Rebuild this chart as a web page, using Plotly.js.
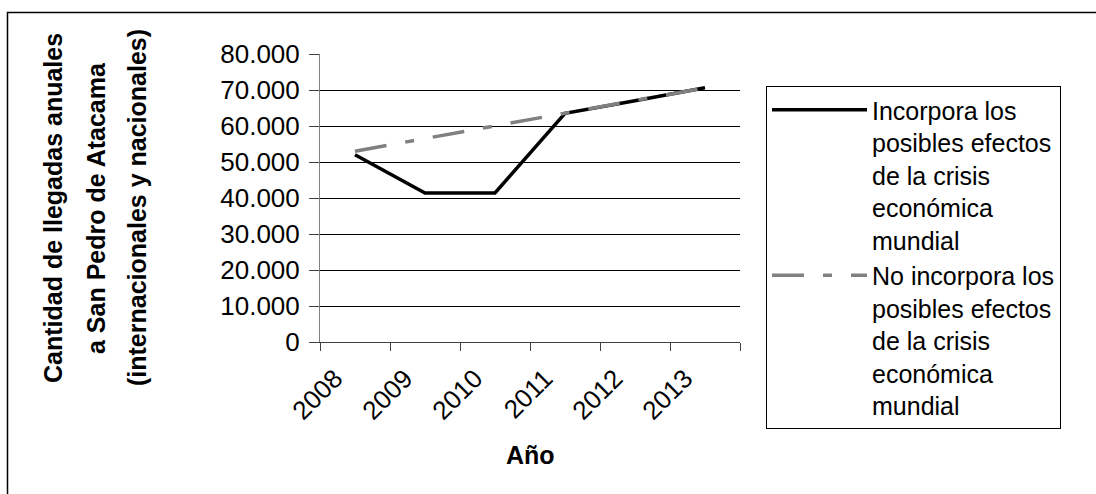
<!DOCTYPE html>
<html>
<head>
<meta charset="utf-8">
<script src="https://cdn.plot.ly/plotly-3.0.1.min.js"></script>
<style>html,body{margin:0;padding:0;background:#fff;}#chart{width:1096px;height:494px;}</style>
</head>
<body>
<div id="chart"></div>
<script>
var years = ['2008', '2009', '2010', '2011', '2012', '2013'];
var conCrisis = [52000, 41400, 41400, 63500, 67000, 70600];
var sinCrisis = [53000, 56500, 60000, 63500, 67000, 70600];
var nameCon = 'Incorpora los<br>posibles efectos<br>de la crisis<br>económica<br>mundial';
var nameSin = 'No incorpora los<br>posibles efectos<br>de la crisis<br>económica<br>mundial';
var yTitleLines = ['Cantidad de llegadas anuales', 'a San Pedro de Atacama', '(internacionales y nacionales)'];
var xTitle = 'Año';

var W = 1096, H = 494;
var L = 320, R = 740, T = 54, B = 342;
function px(x){ return (x - L) / (R - L); }
function py(y){ return (B - y) / (B - T); }

var font = 'Arial, "Liberation Sans", sans-serif';

var traces = [
  {x: years, y: conCrisis, type: 'scatter', mode: 'lines', name: nameCon,
   line: {color: '#000000', width: 3.5}},
  {x: years, y: sinCrisis, type: 'scatter', mode: 'lines', name: nameSin,
   line: {color: '#808080', width: 3.5, dash: '32px,19px,9px,19px'}}
];

var annotations = yTitleLines.map(function(t, i){
  var xs = [53, 96, 137];
  return {text: '<b>' + t + '</b>', xref: 'paper', yref: 'paper', x: px(xs[i]), y: py(208),
          xanchor: 'center', yanchor: 'middle', textangle: -90, showarrow: false,
          font: {family: font, size: 25, color: '#000'}};
});
annotations.push({text: '<b>' + xTitle + '</b>', xref: 'paper', yref: 'paper', x: px(530), y: py(455),
  xanchor: 'center', yanchor: 'middle', showarrow: false, font: {family: font, size: 25, color: '#000'}});

var layout = {
  width: W, height: H,
  margin: {l: L, r: W - R, t: T, b: H - B, pad: 0},
  paper_bgcolor: '#ffffff', plot_bgcolor: '#ffffff',
  separators: ',.',
  font: {family: font, size: 25, color: '#000'},
  showlegend: true,
  legend: {x: px(766), y: py(86), xanchor: 'left', yanchor: 'top', valign: 'top',
           bordercolor: '#000', borderwidth: 1, bgcolor: '#fff', itemwidth: 95, maxheight: 460,
           font: {family: font, size: 25, color: '#000'}, tracegroupgap: 8},
  xaxis: {type: 'category', range: [-0.5, 5.5], tickson: 'boundaries', ticks: 'outside', ticklen: 8, tickcolor: '#404040',
          showline: true, linecolor: '#404040', linewidth: 1, showgrid: false, zeroline: false,
          tickangle: -45, ticklabelshift: -20, ticklabelstandoff: 10, tickfont: {family: font, size: 26, color: '#000'}, fixedrange: true},
  yaxis: {range: [0, 80000], dtick: 10000, tickformat: ',d', ticks: 'outside', ticklen: 10, tickcolor: '#404040',
          showline: true, linecolor: '#808080', linewidth: 1, showgrid: true, gridcolor: '#000', gridwidth: 1,
          zeroline: false, tickfont: {family: font, size: 26, color: '#000'}, ticklabelstandoff: 4, fixedrange: true},
  annotations: annotations,
  shapes: [
    {type: 'rect', xref: 'paper', yref: 'paper', x0: px(7.5), x1: px(1110), y0: py(510), y1: py(12.5),
     line: {color: '#000', width: 1.5}, fillcolor: 'rgba(0,0,0,0)', layer: 'below'}
  ]
};

Plotly.newPlot('chart', traces, layout, {staticPlot: true, displayModeBar: false});
</script>
</body>
</html>
